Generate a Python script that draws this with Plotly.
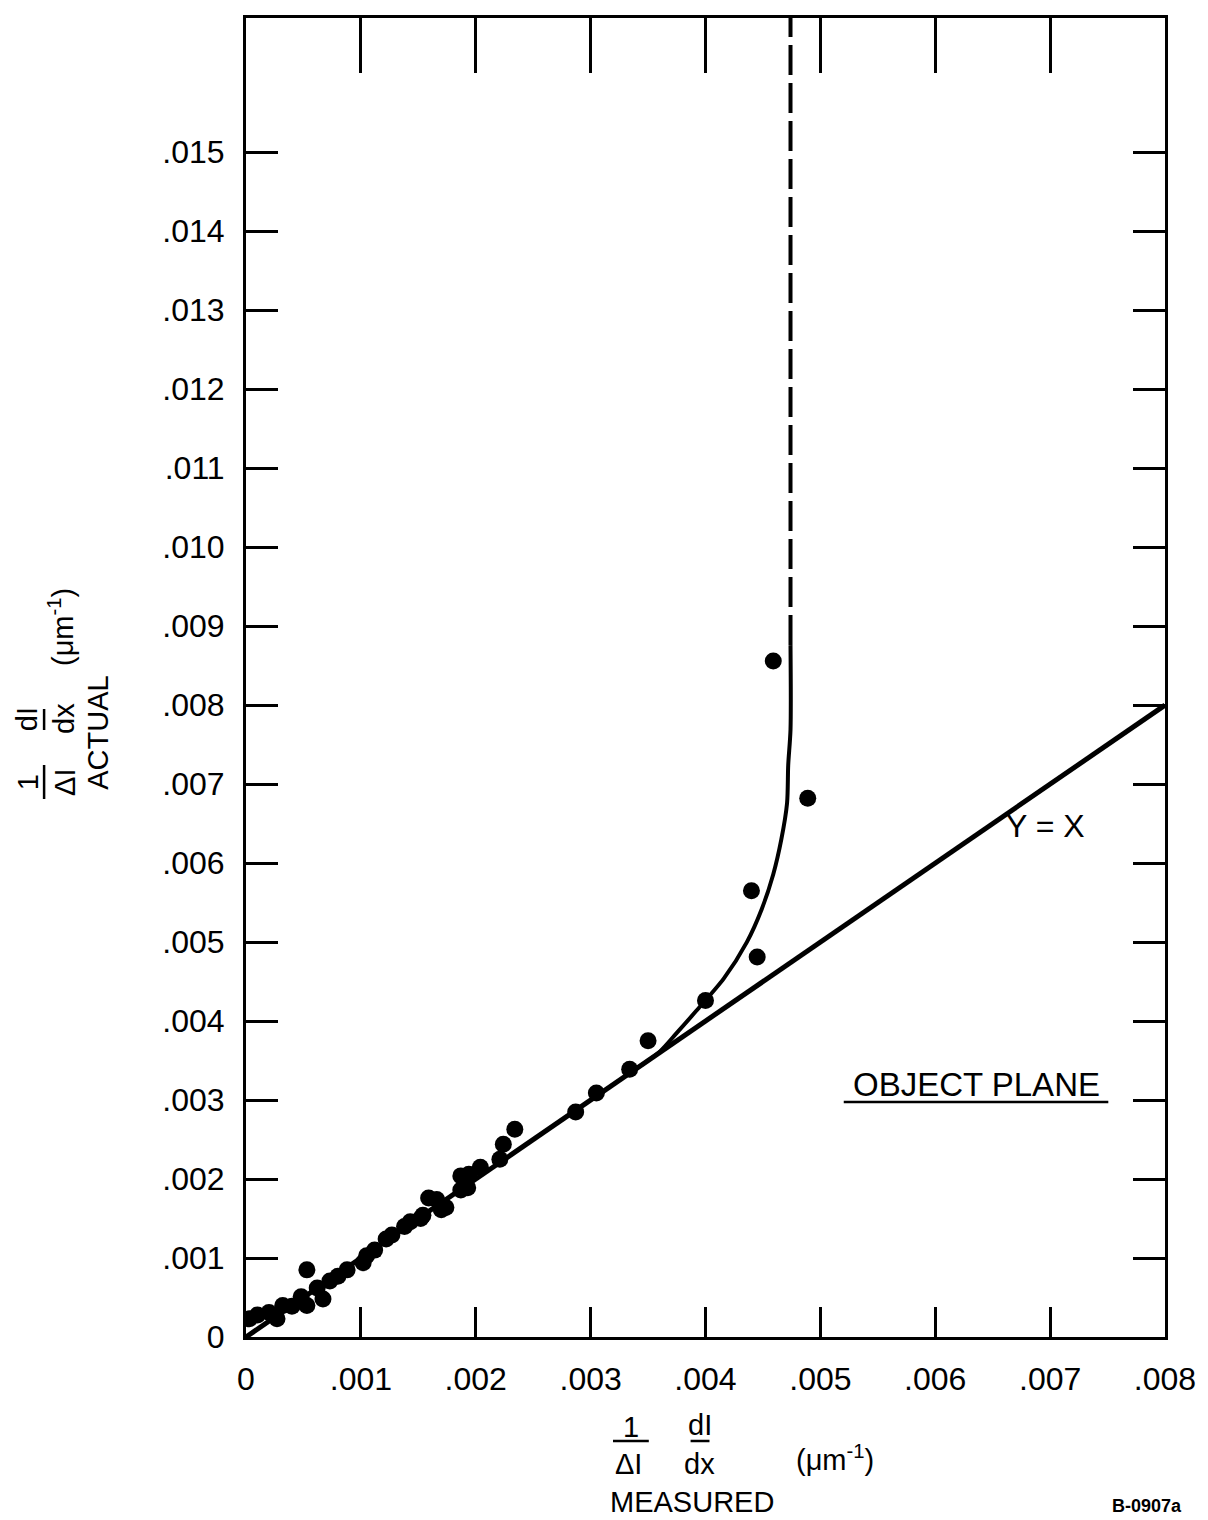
import plotly.graph_objects as go

# Measured vs. actual normalized intensity gradient, object plane
measured = [0.00003, 0.00010, 0.00020, 0.00027, 0.00032, 0.00040, 0.00048, 0.00053,
            0.00062, 0.00067, 0.00073, 0.00080, 0.00088, 0.00102, 0.00105, 0.00112,
            0.00122, 0.00127, 0.00138, 0.00143, 0.00152, 0.00154, 0.00053, 0.00159,
            0.00166, 0.00170, 0.00174, 0.00187, 0.00187, 0.00193, 0.00194, 0.00204,
            0.00221, 0.00224, 0.00234, 0.00287, 0.00305, 0.00334, 0.00350, 0.00400,
            0.00445, 0.00440, 0.00489, 0.00459]
actual = [0.00023, 0.00028, 0.00031, 0.00023, 0.00040, 0.00039, 0.00051, 0.00040,
          0.00062, 0.00048, 0.00071, 0.00077, 0.00085, 0.00094, 0.00103, 0.00110,
          0.00124, 0.00129, 0.00140, 0.00146, 0.00150, 0.00154, 0.00085, 0.00176,
          0.00174, 0.00161, 0.00164, 0.00204, 0.00186, 0.00189, 0.00206, 0.00215,
          0.00225, 0.00244, 0.00263, 0.00285, 0.00309, 0.00339, 0.00375, 0.00426,
          0.00481, 0.00565, 0.00682, 0.00856]

# Fitted response curve and its asymptote
curve_measured = [0.00340, 0.00360, 0.00375, 0.00392, 0.00416, 0.00436, 0.00449, 0.00459,
                  0.00466, 0.00471, 0.00472, 0.00474, 0.00474]
curve_actual = [0.00340, 0.00361, 0.00385, 0.00413, 0.00454, 0.00500, 0.00542, 0.00586,
                0.00630, 0.00676, 0.00724, 0.00769, 0.00876]
asymptote_measured = [0.00474, 0.00474]
asymptote_actual = [0.00876, 0.0167]

identity_x = [0.0, 0.008]
identity_y = [0.0, 0.008]

x_ticks = [0, 0.001, 0.002, 0.003, 0.004, 0.005, 0.006, 0.007, 0.008]
x_tick_labels = ["0", ".001", ".002", ".003", ".004", ".005", ".006", ".007", ".008"]
y_ticks = [0, 0.001, 0.002, 0.003, 0.004, 0.005, 0.006, 0.007, 0.008, 0.009,
           0.010, 0.011, 0.012, 0.013, 0.014, 0.015]
y_tick_labels = ["0", ".001", ".002", ".003", ".004", ".005", ".006", ".007", ".008", ".009",
                 ".010", ".011", ".012", ".013", ".014", ".015"]

X_RANGE = [0, 0.008]
Y_RANGE = [0, 0.0167]

W, H = 1208, 1520
ML, MR, MT, MB = 246, 38, 18, 183
PW, PH = W - ML - MR, H - MT - MB
FONT = "Liberation Sans, Arial, Helvetica, sans-serif"


def paper(xp, yp):
    """Convert a page pixel position to paper coordinates."""
    return (xp - ML) / PW, (H - MB - yp) / PH


fig = go.Figure()

# y = x reference line lives on the overlay axes that carry the top/right ticks
fig.add_trace(go.Scatter(x=identity_x, y=identity_y, mode="lines", xaxis="x2", yaxis="y2",
                         line=dict(color="black", width=5), showlegend=False))
fig.add_trace(go.Scatter(x=curve_measured, y=curve_actual, mode="lines",
                         line=dict(color="black", width=4, shape="spline", smoothing=0.8),
                         showlegend=False))
fig.add_trace(go.Scatter(x=asymptote_measured, y=asymptote_actual, mode="lines",
                         line=dict(color="black", width=4, dash="30px,8px"),
                         showlegend=False))
fig.add_trace(go.Scatter(x=measured, y=actual, mode="markers",
                         marker=dict(color="black", size=17), showlegend=False))

annotations = []
shapes = []


def text(xp, yp, s, size, angle=0):
    px_, py_ = paper(xp, yp)
    annotations.append(dict(x=px_, y=py_, xref="paper", yref="paper", text=s,
                            showarrow=False, xanchor="center", yanchor="middle",
                            textangle=angle,
                            font=dict(family=FONT, size=size, color="black")))


def rule(x0, y0, x1, y1, width=2.5):
    a = paper(x0, y0)
    b = paper(x1, y1)
    shapes.append(dict(type="line", xref="paper", yref="paper",
                       x0=a[0], y0=a[1], x1=b[0], y1=b[1],
                       line=dict(color="black", width=width)))


# x-axis title: (1/ΔI)(dI/dx) (μm-1) MEASURED
text(633, 1427, "1", 29)
rule(615, 1441, 651, 1441)
text(631, 1464, "ΔI", 29)
text(702, 1425, "dI", 29)
rule(693, 1441, 712, 1441)
text(702, 1464, "dx", 29)
text(838, 1458, "(μm<sup>-1</sup>)", 29)
text(694, 1502, "MEASURED", 29)

# y-axis title, rotated
text(27, 782, "1", 29, angle=-90)
rule(43, 765, 43, 799)
text(64, 782, "ΔI", 29, angle=-90)
text(26, 719, "dI", 29, angle=-90)
rule(43, 709, 43, 730)
text(63, 718, "dx", 29, angle=-90)
text(60, 627, "(μm<sup>-1</sup>)", 29, angle=-90)
text(97, 733, "ACTUAL", 29, angle=-90)

# in-plot labels
text(1050, 826, "Y = X", 32)
text(980, 1084, "OBJECT PLANE", 33)
rule(847, 1102, 1113, 1102)

# drawing number
text(1152, 1506, "<b>B-0907a</b>", 18)

tick_style = dict(ticks="inside", tickwidth=3, tickcolor="black",
                  showgrid=False, zeroline=False)

fig.update_layout(
    width=W, height=H,
    margin=dict(l=ML, r=MR, t=MT, b=MB),
    paper_bgcolor="white", plot_bgcolor="white",
    font=dict(family=FONT, size=32, color="black"),
    annotations=annotations,
    shapes=shapes,
    xaxis=dict(range=X_RANGE, tickvals=x_ticks, ticktext=x_tick_labels,
               ticklen=30, showline=True, linewidth=3, linecolor="black", mirror=True,
               ticklabelstandoff=12,
               tickfont=dict(family=FONT, size=32, color="black"), **tick_style),
    yaxis=dict(range=Y_RANGE, tickvals=y_ticks, ticktext=y_tick_labels,
               ticklen=32, showline=True, linewidth=3, linecolor="black", mirror=True,
               ticklabelstandoff=12,
               tickfont=dict(family=FONT, size=32, color="black"), **tick_style),
    xaxis2=dict(range=X_RANGE, overlaying="x", side="top", anchor="y2",
                tickvals=x_ticks, ticklen=55, showticklabels=False, showline=False,
                **tick_style),
    yaxis2=dict(range=Y_RANGE, overlaying="y", side="right", anchor="x2",
                tickvals=y_ticks, ticklen=32, showticklabels=False, showline=False,
                **tick_style),
)

fig.write_html("out.html")
